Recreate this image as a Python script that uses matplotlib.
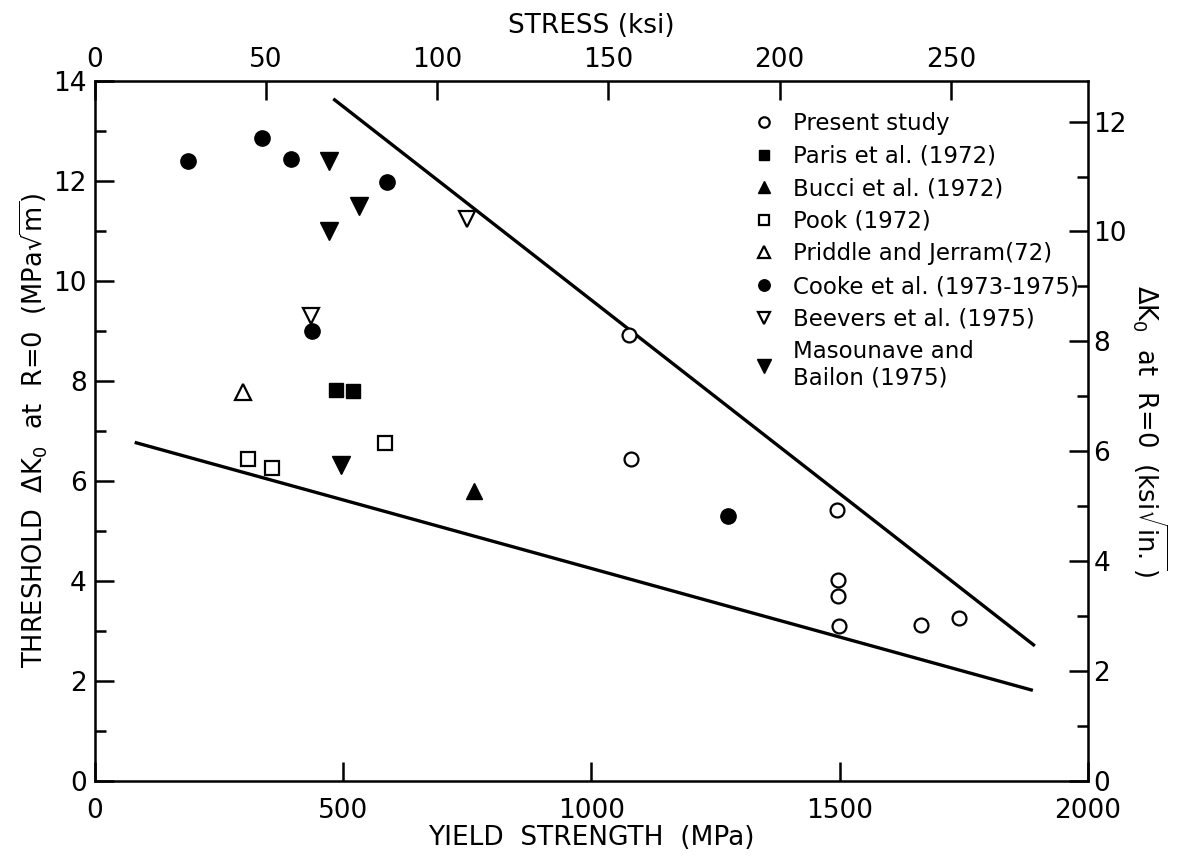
import matplotlib.pyplot as plt
from matplotlib.ticker import MultipleLocator

plt.rcParams['font.family'] = ['DejaVu Sans']
plt.rcParams['mathtext.fontset'] = 'dejavusans'

# yield strength (MPa) and threshold dK0 (MPa sqrt m)
present_x = [1076, 1080, 1495, 1496, 1496, 1499, 1663, 1741]
present_y = [8.91, 6.43, 5.41, 4.02, 3.70, 3.09, 3.12, 3.25]
paris_x = [485, 519]
paris_y = [7.82, 7.80]
bucci_x = [764]
bucci_y = [5.79]
pook_x = [308, 357, 585]
pook_y = [6.43, 6.25, 6.75]
priddle_x = [299]
priddle_y = [7.77]
cooke_x = [187, 336, 395, 589, 438, 1274]
cooke_y = [12.40, 12.85, 12.44, 11.98, 9.00, 5.29]
beevers_x = [435, 749]
beevers_y = [9.29, 11.23]
masounave_x = [471, 532, 472, 495]
masounave_y = [12.39, 11.50, 11.00, 6.32]

# bounding lines
upper_x = [480, 1893]
upper_y = [13.64, 2.70]
lower_x = [80, 1889]
lower_y = [6.77, 1.81]

fig = plt.figure(figsize=(11.8, 8.6), dpi=100)
ax = fig.add_axes([0.0805, 0.092, 0.8415, 0.814])

ax.plot(upper_x, upper_y, color='black', lw=2.4, solid_capstyle='butt')
ax.plot(lower_x, lower_y, color='black', lw=2.4, solid_capstyle='butt')

ax.plot(present_x, present_y, 'o', ms=10, mfc='white', mec='black', mew=1.6,
        label='Present study')
ax.plot(paris_x, paris_y, 's', ms=10, color='black', label='Paris et al. (1972)')
ax.plot(bucci_x, bucci_y, '^', ms=12, color='black', label='Bucci et al. (1972)')
ax.plot(pook_x, pook_y, 's', ms=9.5, mfc='white', mec='black', mew=1.6,
        label='Pook (1972)')
ax.plot(priddle_x, priddle_y, '^', ms=12, mfc='white', mec='black', mew=1.6,
        label='Priddle and Jerram(72)')
ax.plot(cooke_x, cooke_y, 'o', ms=11, color='black', label='Cooke et al. (1973-1975)')
ax.plot(beevers_x, beevers_y, 'v', ms=12, mfc='white', mec='black', mew=1.6,
        label='Beevers et al. (1975)')
ax.plot(masounave_x, masounave_y, 'v', ms=13, color='black',
        label='Masounave and\nBailon (1975)')

ax.set_xlim(0, 2000)
ax.set_ylim(0, 14)
ax.xaxis.set_major_locator(MultipleLocator(500))
ax.yaxis.set_major_locator(MultipleLocator(2))
ax.yaxis.set_minor_locator(MultipleLocator(1))
ax.tick_params(which='both', direction='in', width=1.8, labelsize=19,
               top=False, right=False)
ax.tick_params(which='major', length=14)
ax.tick_params(axis='x', pad=12)
ax.tick_params(axis='y', pad=6)
ax.tick_params(which='minor', length=8)
for s in ax.spines.values():
    s.set_linewidth(1.8)

ax.set_xlabel('YIELD  STRENGTH  (MPa)', fontsize=19, labelpad=1)
ax.set_ylabel(r'THRESHOLD  $\Delta$K$_0$  at  R=0  (MPa$\sqrt{\mathrm{m}}$)',
              fontsize=18.5, labelpad=2)

top = ax.secondary_xaxis('top', functions=(lambda m: m / 6.895, lambda k: k * 6.895))
top.xaxis.set_major_locator(MultipleLocator(50))
top.tick_params(direction='in', length=14, width=1.8, labelsize=19, pad=6)
top.set_xlabel('STRESS (ksi)', fontsize=19, labelpad=10)

right = ax.secondary_yaxis('right', functions=(lambda m: m * 0.9101, lambda k: k / 0.9101))
right.yaxis.set_major_locator(MultipleLocator(2))
right.yaxis.set_minor_locator(MultipleLocator(1))
right.tick_params(which='both', direction='in', width=1.8, labelsize=19)
right.tick_params(which='major', length=14, pad=4)
right.tick_params(which='minor', length=8)
right.set_ylabel(r'$\Delta$K$_0$  at  R=0  (ksi$\sqrt{\mathrm{in.}}$)', fontsize=18.5,
                 rotation=-90, labelpad=30)

leg = ax.legend(loc='upper right', bbox_to_anchor=(1.012, 0.985), frameon=False,
                fontsize=16.5, handlelength=0.8, handletextpad=0.9,
                labelspacing=0.42, markerscale=0.75, numpoints=1)

fig.savefig('out.png', dpi=100)
